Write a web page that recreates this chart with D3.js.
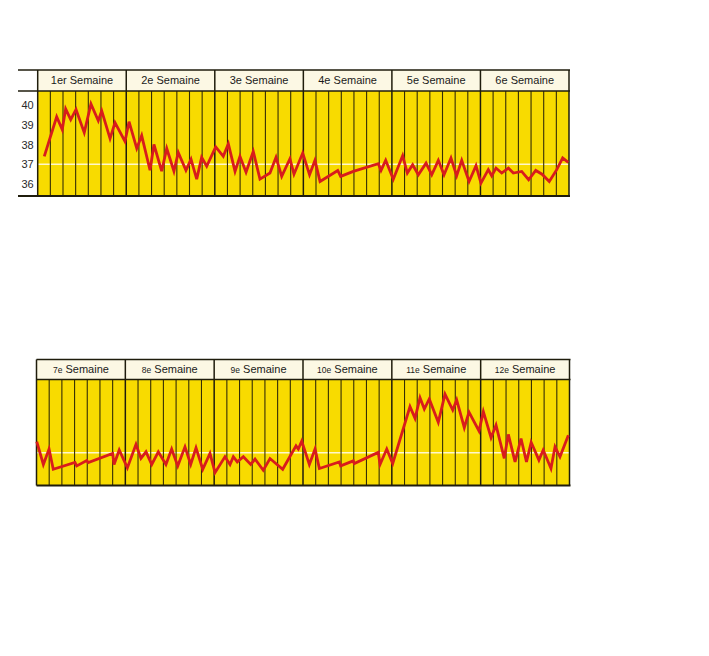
<!DOCTYPE html>
<html><head><meta charset="utf-8">
<script src="https://cdn.jsdelivr.net/npm/d3@7"></script>
<style>
html,body{margin:0;padding:0;background:#ffffff;}
svg{display:block;font-family:"Liberation Sans",Arial,Helvetica,sans-serif;}
</style></head>
<body><svg id="c" width="709" height="656"></svg>
<script>
// ---- data ----
const weeksTop = ["1er", "2e", "3e", "4e", "5e", "6e"];
const weeksBottom = ["7e", "8e", "9e", "10e", "11e", "12e"];
const weekWord = "Semaine";
const yTicks = [36, 37, 38, 39, 40];
const daysPerWeek = 7;

// time in days from the start of the panel, temperature in °C
const daysTop = [0.52,1.50,1.94,2.21,2.61,3.03,3.68,4.21,4.79,5.06,5.72,6.11,6.90,7.22,7.83,8.22,8.88,9.19,9.80,10.20,10.77,11.11,11.72,12.12,12.57,12.96,13.36,14.07,14.67,15.07,15.60,15.99,16.47,17.04,17.57,18.36,18.84,19.29,19.94,20.26,20.95,21.49,21.92,22.32,23.72,23.95,24.95,26.93,27.14,27.51,28.11,28.85,29.22,29.64,30.09,30.70,31.15,31.67,32.12,32.67,33.12,33.52,34.10,34.65,35.04,35.62,35.89,36.23,36.68,37.21,37.60,38.26,38.81,39.37,39.87,40.44,41.03,41.50,41.94];
const tempsTop = [37.4,39.4,38.75,39.8,39.26,39.77,38.6,40.05,39.2,39.7,38.3,39.1,38.15,39.15,37.8,38.45,36.7,38.0,36.65,37.8,36.65,37.6,36.7,37.25,36.25,37.35,36.9,37.88,37.4,38.03,36.64,37.4,36.6,37.65,36.25,36.56,37.35,36.39,37.28,36.5,37.57,36.47,37.2,36.13,36.69,36.39,36.64,37.03,36.69,37.2,36.25,37.44,36.56,36.98,36.47,37.06,36.47,37.2,36.47,37.32,36.42,37.2,36.13,36.93,36.05,36.73,36.42,36.81,36.56,36.81,36.56,36.64,36.22,36.69,36.5,36.13,36.73,37.32,37.1];

const daysBottom = [0.02,0.54,0.99,1.32,3.03,3.17,3.96,4.08,6.00,6.11,6.52,7.16,7.84,8.23,8.63,9.08,9.60,10.20,10.65,11.13,11.70,12.15,12.57,13.10,13.67,14.07,14.85,15.25,15.51,15.82,16.30,16.88,17.22,17.87,18.40,19.40,20.45,20.63,20.90,21.50,21.95,22.29,23.86,23.97,24.96,25.04,26.93,27.07,27.60,28.07,29.43,29.83,30.22,30.56,30.95,31.66,32.19,32.80,33.11,33.71,34.08,34.87,35.21,35.82,36.21,36.86,37.18,37.71,38.18,38.61,38.98,39.59,39.93,40.54,40.86,41.25,41.91];
const tempsBottom = [37.56,36.41,37.19,36.17,36.51,36.34,36.61,36.51,36.97,36.41,37.14,36.24,37.43,36.72,37.05,36.41,37.05,36.41,37.19,36.34,37.3,36.41,37.25,36.17,36.97,36.0,36.8,36.41,36.8,36.54,36.8,36.41,36.68,36.12,36.71,36.17,37.35,37.19,37.59,36.41,37.19,36.21,36.54,36.34,36.59,36.46,37.02,36.41,37.19,36.46,39.33,38.74,39.78,39.21,39.72,38.54,39.96,39.16,39.67,38.27,39.05,38.1,39.08,37.76,38.4,36.72,37.93,36.54,37.72,36.54,37.53,36.63,37.14,36.21,37.3,36.8,37.89];

// ---- drawing ----
const svg = d3.select("#c");
const YELLOW = "#f8db00", HEAD = "#fcf8e4", INK = "#1f1c0c", RED = "#d81c1c";

function panel(cfg){
  const nDays = cfg.weeks.length * daysPerWeek;
  const x = d3.scaleLinear().domain([0, nDays]).range([cfg.x0, cfg.x1]);
  const y = d3.scaleLinear().domain(cfg.domain).range([cfg.plotBottom, cfg.plotTop]);
  const g = svg.append("g");

  g.append("rect").attr("x", x(0)).attr("y", cfg.headTop)
    .attr("width", x(nDays) - x(0)).attr("height", cfg.plotTop - cfg.headTop)
    .attr("fill", HEAD);
  g.append("rect").attr("x", x(0)).attr("y", cfg.plotTop)
    .attr("width", x(nDays) - x(0)).attr("height", cfg.plotBottom - cfg.plotTop)
    .attr("fill", YELLOW);

  // 37° reference line
  g.append("line").attr("x1", x(0)).attr("x2", x(nDays))
    .attr("y1", y(37)).attr("y2", y(37))
    .attr("stroke", "#fff7cc").attr("stroke-width", 1.6);

  // day lines
  const dayIdx = d3.range(1, nDays).filter(d => d % daysPerWeek !== 0);
  g.selectAll(".day").data(dayIdx).join("line")
    .attr("x1", d => x(d)).attr("x2", d => x(d))
    .attr("y1", cfg.plotTop).attr("y2", cfg.plotBottom)
    .attr("stroke", "#352e05").attr("stroke-width", 1.1);

  // week lines
  const weekIdx = d3.range(0, cfg.weeks.length + 1).map(w => w * daysPerWeek);
  g.selectAll(".wk").data(weekIdx).join("line")
    .attr("x1", d => x(d)).attr("x2", d => x(d))
    .attr("y1", cfg.headTop).attr("y2", cfg.plotBottom)
    .attr("stroke", INK).attr("stroke-width", 1.5);

  // horizontal rules
  [cfg.headTop, cfg.plotTop, cfg.plotBottom].forEach((yy, i) => {
    g.append("line").attr("x1", cfg.ruleLeft).attr("x2", x(nDays) + 1)
      .attr("y1", yy).attr("y2", yy)
      .attr("stroke", INK).attr("stroke-width", i === 2 ? 2 : 1.4);
  });

  // header labels
  const lab = g.selectAll(".lab").data(cfg.weeks).join("text")
    .attr("x", (d, i) => x(i * daysPerWeek + daysPerWeek / 2))
    .attr("y", (cfg.headTop + cfg.plotTop) / 2 + 3.8)
    .attr("text-anchor", "middle").attr("fill", "#1a1a1a");
  lab.append("tspan").attr("font-size", cfg.prefixSize).text(d => d);
  lab.append("tspan").attr("font-size", 11).text(" " + weekWord);

  // y axis
  if (cfg.axis){
    const ax = d3.axisLeft(y).tickValues(yTicks).tickSize(0).tickPadding(4).tickFormat(d3.format("d"));
    const ag = g.append("g").attr("transform", `translate(${cfg.x0},0)`).call(ax);
    ag.select(".domain").remove();
    ag.selectAll("text").attr("font-size", 11).attr("fill", "#2a2a2a")
      .attr("font-family", "'Liberation Sans',Arial,sans-serif");
  }

  // temperature curve
  const pts = cfg.days.map((d, i) => [d, cfg.temps[i]]);
  g.append("path").datum(pts)
    .attr("d", d3.line().x(d => x(d[0])).y(d => y(d[1])))
    .attr("fill", "none").attr("stroke", RED).attr("stroke-width", 2.8)
    .attr("stroke-linejoin", "miter").attr("stroke-miterlimit", 4);
}

panel({weeks: weeksTop, days: daysTop, temps: tempsTop, x0: 37.7, x1: 569,
  headTop: 70, plotTop: 91, plotBottom: 196, domain: [35.4, 40.7],
  ruleLeft: 18, axis: true, prefixSize: 11});
panel({weeks: weeksBottom, days: daysBottom, temps: tempsBottom, x0: 36.5, x1: 569.5,
  headTop: 359.5, plotTop: 379.5, plotBottom: 485.5, domain: [35.35, 40.7],
  ruleLeft: 36.5, axis: false, prefixSize: 8.5});
</script></body></html>
